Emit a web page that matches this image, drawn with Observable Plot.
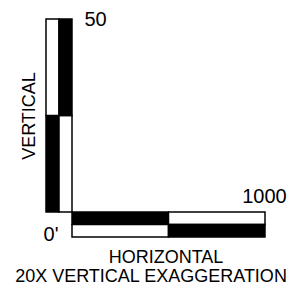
<!DOCTYPE html>
<html>
<head>
<meta charset="utf-8">
<script src="https://cdn.jsdelivr.net/npm/d3@7"></script>
<script src="https://cdn.jsdelivr.net/npm/@observablehq/plot@0.6"></script>
<style>
  html, body { margin: 0; padding: 0; background: #fff; }
  svg { display: block; }
</style>
</head>
<body>
<div id="chart"></div>
<script>
// Vertical scale (feet): segments of the vertical bar
const vertMax = 50;
const vertSegments = [
  { y1: 0,  y2: 25, col: "left",  fill: "black" },
  { y1: 25, y2: 50, col: "left",  fill: "white" },
  { y1: 0,  y2: 25, col: "right", fill: "white" },
  { y1: 25, y2: 50, col: "right", fill: "black" }
];
// Horizontal scale (feet): segments of the horizontal bar
const horizMax = 1000;
const horizSegments = [
  { x1: 0,   x2: 500,  row: "top",    fill: "black" },
  { x1: 500, x2: 1000, row: "top",    fill: "white" },
  { x1: 0,   x2: 500,  row: "bottom", fill: "white" },
  { x1: 500, x2: 1000, row: "bottom", fill: "black" }
];
const tickLabels = { top: "50", right: "1000", origin: "0'" };
const axisTitles = { vertical: "VERTICAL", horizontal: "HORIZONTAL", note: "20X VERTICAL EXAGGERATION" };

const BAR = 13;   // half-thickness of a bar, px
const SW = 1.5;

const font = "Liberation Sans, Arial, Helvetica, sans-serif";

function vCol(col) {
  const d = vertSegments.filter(s => s.col === col);
  return Plot.rect(d, {
    x1: () => 0, x2: () => 0, y1: "y1", y2: "y2", fill: "fill",
    stroke: "black", strokeWidth: SW,
    insetLeft: col === "left" ? -2 * BAR : -BAR,
    insetRight: col === "left" ? BAR : 0
  });
}
function hRow(row) {
  const d = horizSegments.filter(s => s.row === row);
  return Plot.rect(d, {
    x1: "x1", x2: "x2", y1: () => 0, y2: () => 0, fill: "fill",
    stroke: "black", strokeWidth: SW,
    insetTop: row === "top" ? 0 : BAR - 0.5,
    insetBottom: row === "top" ? -(BAR - 0.5) : -(2 * BAR - 1)
  });
}

const chart = Plot.plot({
  width: 301,
  height: 292,
  marginLeft: 72,
  marginRight: 36,
  marginTop: 19,
  marginBottom: 80,
  x: { domain: [0, horizMax], axis: null },
  y: { domain: [0, vertMax], axis: null },
  style: { fontFamily: font, background: "white" },
  marks: [
    vCol("left"), vCol("right"),
    hRow("top"), hRow("bottom"),
    Plot.text([tickLabels.top], { x: 0, y: vertMax, text: d => d, textAnchor: "start", lineAnchor: "middle", dx: 12, fontSize: 20, fill: "black" }),
    Plot.text([tickLabels.right], { x: horizMax, y: 0, text: d => d, textAnchor: "middle", lineAnchor: "bottom", dx: -1, dy: -10, fontSize: 20, fill: "black" }),
    Plot.text([tickLabels.origin], { x: 0, y: 0, text: d => d, textAnchor: "end", lineAnchor: "bottom", dx: -14, dy: 28, fontSize: 20, fill: "black" }),
    Plot.text([axisTitles.vertical], { x: 0, y: vertMax / 2, text: d => d, rotate: -90, textAnchor: "middle", lineAnchor: "bottom", dx: -38, fontSize: 18, fill: "black" }),
    Plot.text([axisTitles.horizontal], { x: horizMax / 2, y: 0, text: d => d, textAnchor: "middle", lineAnchor: "bottom", dx: -3, dy: 50, fontSize: 18, fill: "black" }),
    Plot.text([axisTitles.note], { x: horizMax / 2, y: 0, text: d => d, textAnchor: "middle", lineAnchor: "bottom", dx: -18, dy: 69, fontSize: 18, fill: "black" })
  ]
});
document.getElementById("chart").appendChild(chart);
</script>
</body>
</html>
